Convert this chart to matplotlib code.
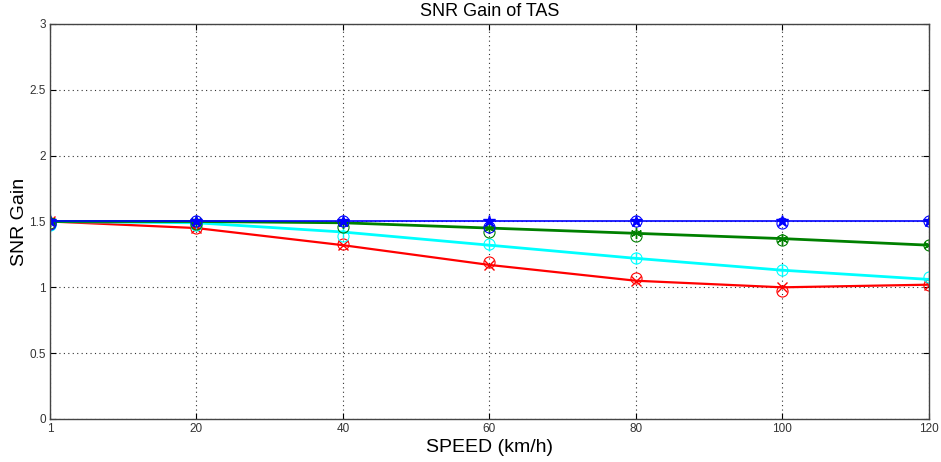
import numpy as np
import matplotlib
matplotlib.use("Agg")
import matplotlib.pyplot as plt

plt.rcParams['font.family'] = ['Liberation Sans Narrow', 'Liberation Sans', 'DejaVu Sans']

speed = [0, 20, 40, 60, 80, 100, 120]
speed_labels = ['1', '20', '40', '60', '80', '100', '120']

# theory (lines with markers)
blue_line = [1.5, 1.5, 1.5, 1.5, 1.5, 1.5, 1.5]
green_line = [1.5, 1.5, 1.49, 1.45, 1.41, 1.37, 1.32]
cyan_line = [1.5, 1.49, 1.42, 1.32, 1.22, 1.13, 1.06]
red_line = [1.5, 1.45, 1.32, 1.17, 1.05, 1.0, 1.02]

# simulation (open circles)
blue_sim = [1.48, 1.5, 1.5, 1.46, 1.5, 1.49, 1.5]
green_sim = [1.49, 1.48, 1.46, 1.42, 1.39, 1.36, 1.32]
cyan_sim = [1.47, 1.47, 1.39, 1.33, 1.22, 1.13, 1.08]
red_sim = [1.49, 1.45, 1.33, 1.19, 1.07, 0.97, 1.02]

green = (0, 0.5, 0)
cyan = (0, 1, 1)

fig = plt.figure(figsize=(9.41, 4.62), dpi=100)
ax = fig.add_axes([0.0531, 0.0931, 0.934, 0.855])

ax.plot(speed, red_line, color='r', marker='x', ms=7, lw=1.6)
ax.plot(speed, red_sim, ls='none', marker='o', mfc='none', mec='r', ms=8, mew=0.8)
ax.plot(speed, cyan_line, color=cyan, marker='+', ms=9, lw=2)
ax.plot(speed, cyan_sim, ls='none', marker='o', mfc='none', mec=cyan, ms=8, mew=0.8)
ax.plot(speed, green_line, color=green, marker=(6, 2, 0), ms=8, lw=2)
ax.plot(speed, green_sim, ls='none', marker='o', mfc='none', mec=green, ms=8, mew=0.8)
ax.plot(speed, blue_sim, ls='none', marker='o', mfc='none', mec='b', ms=8, mew=0.8)
ax.plot(speed, blue_line, color='b', marker='*', ms=9, lw=1.2)

ax.set_xlim(0, 120)
ax.set_ylim(0, 3)
ax.set_xticks(speed)
ax.set_xticklabels(speed_labels)
ax.set_yticks([0, 0.5, 1, 1.5, 2, 2.5, 3])
ax.set_yticklabels(['0', '0.5', '1', '1.5', '2', '2.5', '3'])
ax.grid(True, color='#333333', ls=(0, (1, 3)), lw=0.8)
ax.tick_params(direction='in', top=True, right=True, labelsize=8.5, length=4,
               labelcolor='#333333', pad=3)
for s in ax.spines.values():
    s.set_linewidth(1.0)
    s.set_color('#444444')

ax.set_title('SNR Gain of TAS', fontsize=13, pad=6)
ax.set_xlabel('SPEED (km/h)', fontsize=14, labelpad=3)
ax.set_ylabel('SNR Gain', fontsize=14, labelpad=1)

fig.savefig('out.png', dpi=100)
